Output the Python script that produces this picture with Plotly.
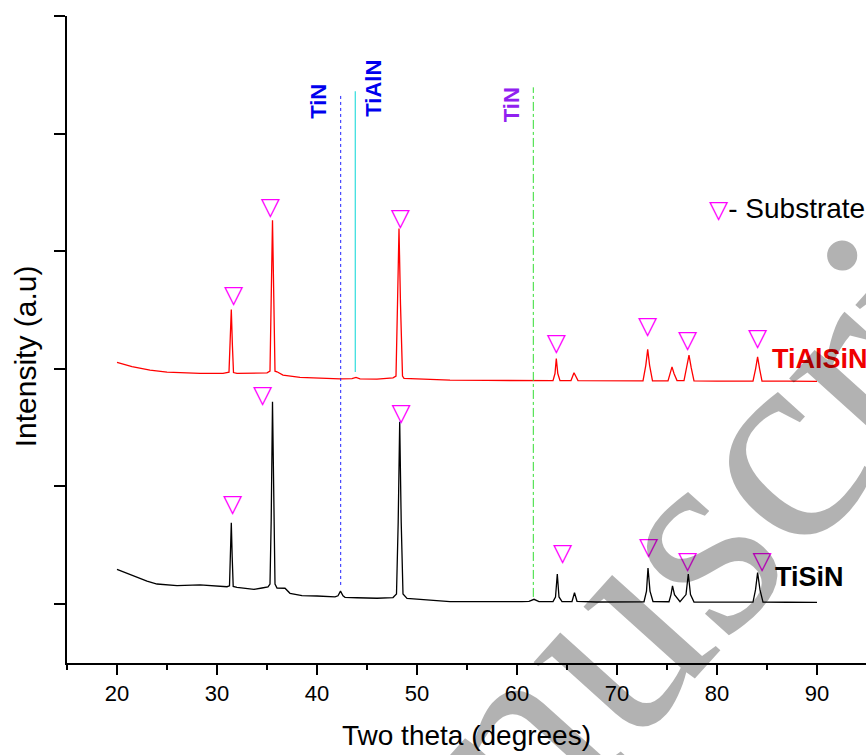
import plotly.graph_objects as go

# ---------------- data ----------------
# TiSiN pattern (black), intensity in arbitrary units
tisin_2theta = [20.0, 21.0, 22.3, 23.0, 24.0, 26.0, 28.3, 29.5, 31.0, 31.25, 31.35, 31.43, 31.52, 31.62,
                32.0, 33.7, 34.5, 35.1, 35.3, 35.42, 35.55, 35.68, 35.8, 36.0, 36.8, 37.3, 38.5, 40.0,
                41.8, 42.1, 42.35, 42.6, 42.8, 44.0, 46.0, 47.6, 47.95, 48.12, 48.27, 48.42, 48.6, 49.0,
                51.7, 53.3, 56.0, 58.0, 60.5, 61.2, 61.7, 62.2, 63.6, 63.85, 64.03, 64.2, 64.5, 65.5,
                65.75, 66.0, 68.0, 72.7, 72.95, 73.1, 73.3, 73.6, 75.2, 75.4, 75.55, 75.75, 76.3, 76.9,
                77.13, 77.35, 77.7, 80.0, 83.6, 83.85, 84.06, 84.3, 84.6, 87.0, 90.0]
tisin_int = [295, 263, 218, 195, 170, 157, 162, 153, 147, 155, 400, 691, 400, 150,
             142, 125, 136, 145, 170, 714, 1720, 714, 170, 136, 134, 91, 72, 68,
             61, 70, 110, 70, 57, 53, 49, 55, 85, 700, 1550, 700, 85, 48,
             34, 20, 21, 19, 20, 23, 40, 21, 20, 60, 255, 60, 20, 21,
             96, 23, 17, 19, 110, 306, 110, 21, 19, 80, 155, 80, 19, 80,
             255, 80, 17, 16, 16, 120, 267, 120, 16, 15, 14]

# TiAlSiN pattern (red), intensity in arbitrary units
tialsin_2theta = [20.0, 21.5, 23.3, 25.0, 28.3, 30.6, 31.2, 31.32, 31.43, 31.54, 31.65, 32.0, 34.0, 35.0,
                  35.3, 35.42, 35.55, 35.68, 35.8, 36.0, 36.6, 38.3, 40.0, 42.3, 43.5, 43.9, 44.3, 46.0,
                  47.6, 47.9, 48.05, 48.2, 48.35, 48.55, 48.7, 51.7, 53.3, 57.0, 61.7, 63.6, 63.8, 63.93,
                  64.08, 64.3, 65.4, 65.7, 66.1, 68.0, 72.6, 72.88, 73.07, 73.26, 73.55, 75.1, 75.3, 75.5,
                  75.7, 76.0, 76.7, 76.98, 77.2, 77.42, 77.7, 80.0, 83.6, 83.86, 84.06, 84.26, 84.5, 87.0, 90.0]
tialsin_int = [2054, 2019, 1989, 1972, 1961, 1961, 1972, 2200, 2505, 2200, 1968, 1961, 1963, 1966,
               1980, 2600, 3264, 2600, 1980, 1975, 1946, 1927, 1921, 1915, 1917, 1927, 1914, 1912,
               1923, 1938, 2550, 3193, 2550, 1938, 1918, 1910, 1904, 1901, 1900, 1900, 1960, 2088,
               1960, 1900, 1900, 1966, 1900, 1898, 1898, 2030, 2165, 2030, 1898, 1898, 1960, 2017,
               1960, 1900, 1900, 2010, 2116, 2010, 1898, 1896, 1896, 2000, 2102, 2000, 1896, 1895, 1893]

# reference phase lines
ref_phase = ["TiN", "TiAlN", "TiN"]
ref_2theta = [42.37, 43.83, 61.63]
ref_top = [4326, 4360, 4394]
ref_bottom = [162, 1972, 60]
ref_label_2theta = [40.07, 45.7, 59.47]
ref_label_int = [4277, 4382, 4248]

# substrate peak markers
sub_tialsin_2theta = [31.66, 35.33, 48.33, 63.93, 73.06, 77.06, 84.06]
sub_tialsin_int = [2612, 3363, 3270, 2201, 2348, 2229, 2244]
sub_tisin_2theta = [31.56, 34.56, 48.40, 64.56, 73.16, 77.06, 84.50]
sub_tisin_int = [833, 1762, 1606, 416, 473, 351, 354]

# axis ticks
x_ticks = [20, 30, 40, 50, 60, 70, 80, 90]
y_ticks = [0, 1000, 2000, 3000, 4000, 5000]

SANS = "Liberation Sans, Arial, sans-serif"
MAG = "#ff00ff"

fig = go.Figure()

fig.add_trace(go.Scatter(x=tisin_2theta, y=tisin_int, mode="lines",
                         line=dict(color="black", width=1.3), showlegend=False))
fig.add_trace(go.Scatter(x=tialsin_2theta, y=tialsin_int, mode="lines",
                         line=dict(color="#ff0000", width=1.3), showlegend=False))

ref_styles = [dict(color="#2020ff", width=1, dash="dot"),
              dict(color="#40e0e0", width=1.3, dash="solid"),
              dict(color="#33dd33", width=1, dash="dashdot")]
for xv, top, bot, st in zip(ref_2theta, ref_top, ref_bottom, ref_styles):
    fig.add_trace(go.Scatter(x=[xv, xv], y=[bot, top], mode="lines", line=st,
                             showlegend=False, hoverinfo="skip"))

for xs, ys in [(sub_tialsin_2theta, sub_tialsin_int), (sub_tisin_2theta, sub_tisin_int)]:
    fig.add_trace(go.Scatter(x=xs, y=ys, mode="text", text=["▽"] * len(xs),
                             textposition="middle center",
                             textfont=dict(family="DejaVu Sans", size=25, color=MAG, weight="bold"),
                             showlegend=False))

label_colors = ["#0000ee", "#0000ee", "#9020f0"]
annotations = []
for name, xv, yv, col in zip(ref_phase, ref_label_2theta, ref_label_int, label_colors):
    annotations.append(dict(x=xv, y=yv, xref="x", yref="y", text="<b>%s</b>" % name,
                            textangle=-90, showarrow=False,
                            font=dict(family=SANS, size=22, color=col)))

annotations.append(dict(x=85.3, y=2087, xref="x", yref="y", text="<b>TiAlSiN</b>",
                        xanchor="left", showarrow=False,
                        font=dict(family=SANS, size=27, color="#f00000")))
annotations.append(dict(x=85.6, y=232, xref="x", yref="y", text="<b>TiSiN</b>",
                        xanchor="left", showarrow=False,
                        font=dict(family=SANS, size=27, color="black")))
annotations.append(dict(x=78.95, y=3366, xref="x", yref="y",
                        text='<span style="font-family:DejaVu Sans;font-size:25px;font-weight:bold;color:#ff00ff">▽</span>- Substrate',
                        xanchor="left", showarrow=False,
                        font=dict(family=SANS, size=28, color="black")))
# y axis title
annotations.append(dict(x=-0.0526, y=0.474, xref="paper", yref="paper", text="Intensity (a.u)",
                        textangle=-90, showarrow=False, xanchor="center", yanchor="middle",
                        font=dict(family=SANS, size=30, color="black")))
# watermark
annotations.append(dict(x=0.7197, y=0.1059, xref="paper", yref="paper", text="Manuscript",
                        textangle=-48, showarrow=False, xanchor="center", yanchor="middle",
                        font=dict(family="Liberation Serif", size=285, color="rgba(0,0,0,0.3)")))

fig.update_layout(
    width=866, height=755,
    margin=dict(l=67, r=0, t=16, b=92),
    paper_bgcolor="white", plot_bgcolor="white",
    annotations=annotations,
    font=dict(family=SANS, color="black"),
)

fig.update_xaxes(range=[15, 94.9], tickvals=x_ticks, ticks="outside", ticklen=10, tickwidth=2,
                 tickcolor="black", showline=True, linecolor="black", linewidth=2,
                 showgrid=False, zeroline=False, tickfont=dict(family=SANS, size=22),
                 minor=dict(dtick=5, tick0=15, ticks="outside", ticklen=5, tickwidth=2,
                            tickcolor="black", showgrid=False),
                 title=dict(text="Two theta (degrees)", font=dict(family=SANS, size=28), standoff=20))
fig.update_yaxes(range=[-501.7, 5000.5], tickvals=y_ticks, ticks="outside", ticklen=11, tickwidth=2,
                 tickcolor="black", showline=True, linecolor="black", linewidth=2,
                 showgrid=False, zeroline=False, showticklabels=False)

fig.write_html("out.html")
